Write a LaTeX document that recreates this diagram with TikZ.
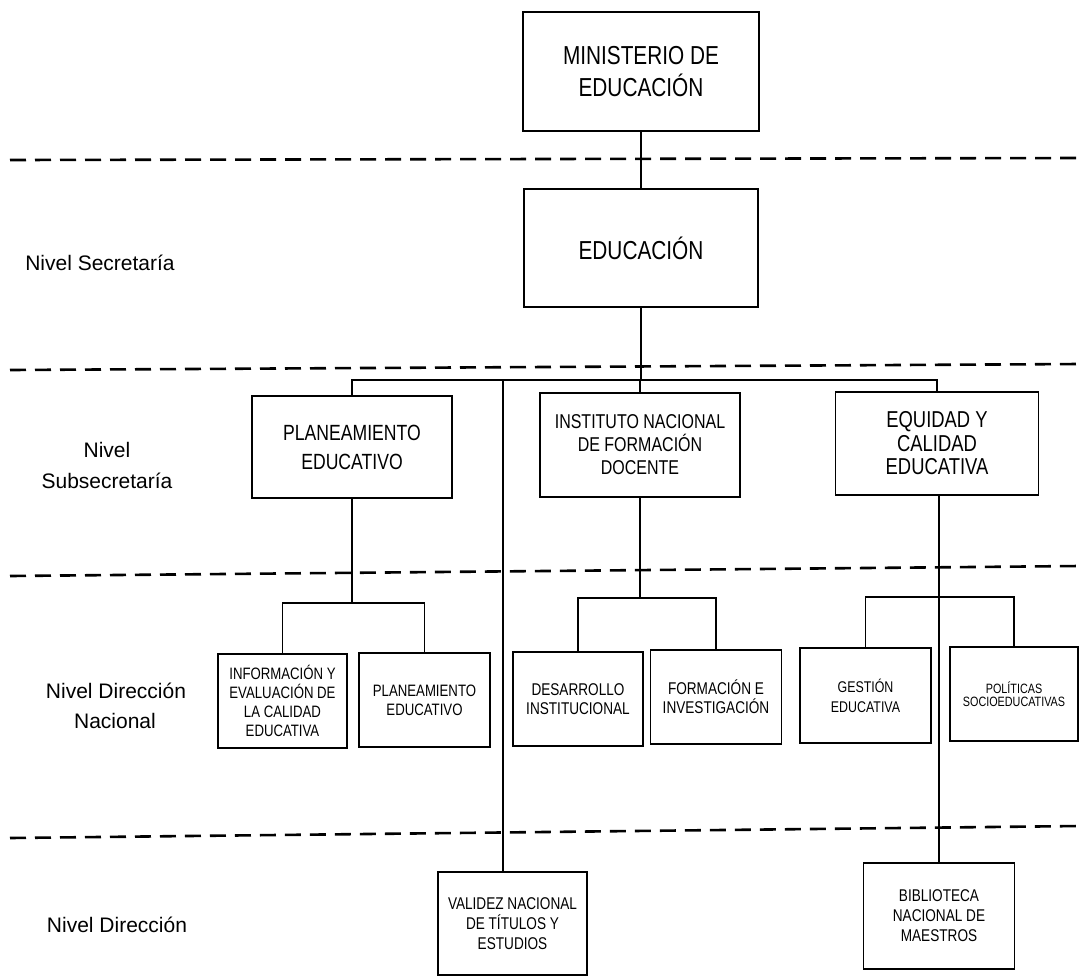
\documentclass[tikz,border=0pt]{standalone}
\usepackage{fontspec}
\setmainfont{Liberation Sans}
\newfontfamily\bx{Liberation Sans}[FakeStretch=0.8]
\begin{document}
\begin{tikzpicture}[x=1pt,y=-1pt,
  box/.style={draw, line width=1.6pt, align=center, inner sep=0pt},
  fs/.style 2 args={font=\bx\fontsize{#1}{#2}\selectfont},
  conn/.style={line width=1.7pt},
  lvl/.style={line width=2.6pt, dash pattern=on 16pt off 9pt},
  lab/.style={font=\fontsize{21}{30}\selectfont, anchor=base, inner sep=0pt}]
\useasboundingbox (0,0) rectangle (1079,978);
% level separators
\draw[lvl] (10,160) -- (1079,158);
\draw[lvl] (10,370) -- (1079,364);
\draw[lvl] (10,576) -- (1079,566);
\draw[lvl] (10,838) -- (1079,826);
% level labels
\node[lab] (ls) at (100,270) {Nivel Secretaría};
\node[lab] (lss1) at (107,457) {Nivel};
\node[lab] (lss2) at (107,488) {Subsecretaría};
\node[lab] (ldn1) at (116,698) {Nivel Dirección};
\node[lab] (ldn2) at (115,728) {Nacional};
\node[lab] (ld) at (117,932) {Nivel Dirección};
% boxes
\node[box, minimum width=236, minimum height=119, fs={26}{32}] (min) at (641,71.5) {MINISTERIO DE\\EDUCACIÓN};
\node[box, minimum width=234, minimum height=118, fs={26}{32}] (edu) at (641,248) {EDUCACIÓN};
\node[box, minimum width=200, minimum height=102, fs={22}{29}] (plan) at (352,447) {PLANEAMIENTO\\EDUCATIVO};
\node[box, minimum width=200, minimum height=104, fs={20}{23}] (inst) at (640,445) {INSTITUTO NACIONAL\\DE FORMACIÓN\\DOCENTE};
\node[box, minimum width=203, minimum height=103, fs={23}{23.5}] (equi) at (937,443.5) {EQUIDAD Y\\CALIDAD\\EDUCATIVA};
\node[box, minimum width=129, minimum height=94, fs={16.5}{19}] (info) at (282.5,701) {INFORMACIÓN Y\\EVALUACIÓN DE\\LA CALIDAD\\EDUCATIVA};
\node[box, minimum width=131, minimum height=94, fs={16.5}{19}] (plan2) at (424.5,700) {PLANEAMIENTO\\EDUCATIVO};
\node[box, minimum width=130, minimum height=94, fs={17}{19}] (desa) at (578,699) {DESARROLLO\\INSTITUCIONAL};
\node[box, minimum width=131, minimum height=94, fs={17}{19}] (form) at (716,697) {FORMACIÓN E\\INVESTIGACIÓN};
\node[box, minimum width=131, minimum height=95, fs={15.5}{20}] (gest) at (865.5,695.5) {GESTIÓN\\EDUCATIVA};
\node[box, minimum width=128, minimum height=94, fs={13.5}{13}] (poli) at (1014,694) {POLÍTICAS\\SOCIOEDUCATIVAS};
\node[box, minimum width=149, minimum height=103, fs={17}{20}] (vali) at (512.5,923.5) {VALIDEZ NACIONAL\\DE TÍTULOS Y\\ESTUDIOS};
\node[box, minimum width=151, minimum height=106, fs={17}{20}] (bibl) at (939,916) {BIBLIOTECA\\NACIONAL DE\\MAESTROS};
% connectors
\coordinate (bl) at (352,380);
\coordinate (br) at (937,380);
\coordinate (lv) at (503,380);
\draw[conn] (min) -- (edu);
\draw[conn] (edu.south) -- (edu.south |- bl);
\draw[conn] (plan.north) -- (bl) -- (br) -- (equi.north);
\draw[conn] (inst.north) -- (inst.north |- bl);
\draw[conn] (lv) -- (lv |- vali.north);
\coordinate (pb) at (352,603);
\draw[conn] (plan.south) -- (pb);
\draw[conn] (info.north) |- (pb) -| (plan2.north);
\coordinate (ib) at (640,598);
\draw[conn] (inst.south) -- (ib);
\draw[conn] (desa.north) |- (ib) -| (form.north);
\coordinate (eb) at (939,597);
\draw[conn] (gest.north) |- (eb) -| (poli.north);
\draw[conn] (bibl.north) -- (bibl.north |- equi.south);
\end{tikzpicture}
\end{document}
